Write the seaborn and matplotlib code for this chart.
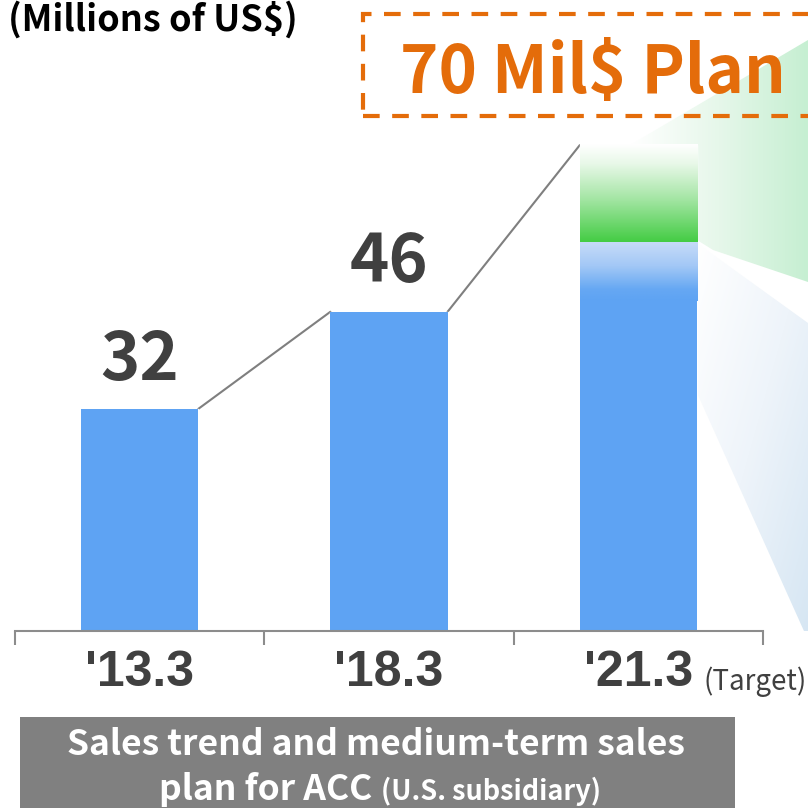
import numpy as np
import matplotlib
matplotlib.use("Agg")
import matplotlib.pyplot as plt
import seaborn as sns
from matplotlib.colors import LinearSegmentedColormap
from matplotlib.patches import Polygon, Rectangle

# data
years = ["'13.3", "'18.3", "'21.3"]
sales = [32, 46, 56]          # blue part of each bar
plan_total = [32, 46, 70]     # top of each bar incl. planned growth (green)
value_labels = ["32", "46", ""]
plan_text = "70 Mil$ Plan"
unit_text = "(Millions of US$)"
target_text = "(Target)"
caption_1 = "Sales trend and medium-term sales"
caption_2a = "plan for ACC"
caption_2b = "(U.S. subsidiary)"

BLUE = "#5EA3F3"
GREEN = "#44CC44"
ORANGE = "#E46C0A"
DARK = "#404040"
GRAY = "#8C8C8C"
BAR_W = 0.47

sns.set_theme(style="white")
plt.rcParams["font.family"] = ["Noto Sans CJK JP", "DejaVu Sans"]

W = 808
fig = plt.figure(figsize=(8.08, 8.08), dpi=100)
fig.patch.set_facecolor("white")
ax = fig.add_axes([15 / W, 177 / W, 793 / W, 631 / W])
ax.set_facecolor("none")

XS = 249.33  # px per category
YS = 6.94    # px per million


def px2data(xp, yp):
    # decoration helper: reference pixel -> data coords
    return (xp - 15) / XS - 0.5, (631 - yp) / YS


# decorative wedges on the right (gradient fills clipped to polygons)
def gradient_poly(pts, img, colors, z):
    verts = [px2data(*p) for p in pts]
    poly = Polygon(verts, closed=True, facecolor="none", edgecolor="none",
                   transform=ax.transData)
    ax.add_patch(poly)
    xs = [v[0] for v in verts]
    ys = [v[1] for v in verts]
    cmap = LinearSegmentedColormap.from_list("g", colors)
    im = ax.imshow(img, extent=[min(xs), max(xs), min(ys), max(ys)], origin="lower",
                   cmap=cmap, aspect="auto", zorder=z, interpolation="bilinear")
    im.set_clip_path(poly)


gx = np.linspace(0, 1, 200)
gradient_poly([(630, 145), (808, 40), (808, 282), (713, 250), (697, 240)],
              np.tile(gx, (50, 1)), ["white", "#E6F7EA", "#C6EFD2"], 0.5)
gy = np.linspace(1, 0, 200).reshape(-1, 1)
gradient_poly([(697, 243), (808, 323), (808, 640), (697, 393)],
              (gy + gx[None, :]) / 2, ["white", "#EEF4FA", "#D6E6F3"], 0.5)

# bars
sns.barplot(x=years, y=plan_total, color=GREEN, saturation=1, width=BAR_W,
            errorbar=None, ax=ax, zorder=2)
sns.barplot(x=years, y=sales, color=BLUE, saturation=1, width=BAR_W,
            errorbar=None, ax=ax, zorder=2, linewidth=0)

# gradient for the planned (green) part and the fade on top of the blue part
top_bar = ax.containers[0][2]
bx0, bx1 = top_bar.get_x(), top_bar.get_x() + top_bar.get_width()
top_bar.set_facecolor("none")
g_cmap = LinearSegmentedColormap.from_list(
    "gr", [(0, GREEN), (0.45, "#A6E6A6"), (0.8, "#E8F8E8"), (1, "white")])
ax.imshow(np.linspace(0, 1, 256).reshape(-1, 1), extent=[bx0, bx1, sales[2], plan_total[2]],
          origin="lower", cmap=g_cmap, aspect="auto", zorder=3, interpolation="bilinear")
b_cmap = LinearSegmentedColormap.from_list(
    "bl", [(0, BLUE), (0.2, "#66A8F3"), (0.6, "#A3C8F6"), (1, "#C6DBF8")])
ax.imshow(np.linspace(0, 1, 256).reshape(-1, 1), extent=[bx0, bx1, sales[2] - 8.5, sales[2]],
          origin="lower", cmap=b_cmap, aspect="auto", zorder=3, interpolation="bilinear")

# connector lines between bar tops
for i in range(len(years) - 1):
    ax.plot([i + BAR_W / 2, i + 1 - BAR_W / 2], [plan_total[i], plan_total[i + 1]],
            color="#7F7F7F", lw=1.5, zorder=1.5)

ax.bar_label(ax.containers[1], labels=value_labels, padding=11, fontsize=48,
             fontweight="bold", color=DARK)

ax.set_xlim(-0.5, -0.5 + 793 / XS)
ax.set_ylim(0, 631 / YS)
ax.set_yticks([])
for s in ["left", "top", "right"]:
    ax.spines[s].set_visible(False)
ax.spines["bottom"].set_bounds(-0.5, 2.5)
ax.spines["bottom"].set_color(GRAY)
ax.spines["bottom"].set_linewidth(1.5)
ax.set_xticks(range(len(years)))
ax.set_xticks([-0.5, 0.5, 1.5, 2.5], minor=True)
ax.tick_params(axis="x", which="major", length=0, pad=14)
ax.tick_params(axis="x", which="minor", bottom=True, length=10, width=1.5,
               color=GRAY, direction="out")
for lab in ax.get_xticklabels():
    lab.set_fontsize(36)
    lab.set_fontweight("bold")
    lab.set_family(["Liberation Sans", "DejaVu Sans"])
    lab.set_color(DARK)

# texts around the plot
fig.text(8 / W, 1 - 31 / W, unit_text, fontsize=26, fontweight="bold", color="black",
         va="baseline", ha="left")
fig.text(400 / W, 1 - 93 / W, plan_text, fontsize=47, fontweight="bold", color=ORANGE,
         va="baseline", ha="left")
fig.add_artist(Rectangle((363 / W, 1 - 116 / W), 470 / W, 102 / W, transform=fig.transFigure,
                         fill=False, edgecolor=ORANGE, lw=3, linestyle=(0, (4, 3))))
fig.text(703 / W, 1 - 690 / W, target_text, fontsize=20, color=DARK, va="baseline", ha="left")

fig.add_artist(Rectangle((20 / W, 0), 715 / W, 91 / W, transform=fig.transFigure,
                         facecolor="#808080", edgecolor="none"))
fig.text(376 / W, 1 - 755 / W, caption_1, fontsize=25.5, fontweight="bold", color="white",
         va="baseline", ha="center")
fig.text(372 / W, 1 - 800 / W, caption_2a, fontsize=25.5, fontweight="bold", color="white",
         va="baseline", ha="right")
fig.text(381 / W, 1 - 800 / W, caption_2b, fontsize=19.5, fontweight="bold", color="white",
         va="baseline", ha="left")

fig.savefig("out.png", dpi=100)
